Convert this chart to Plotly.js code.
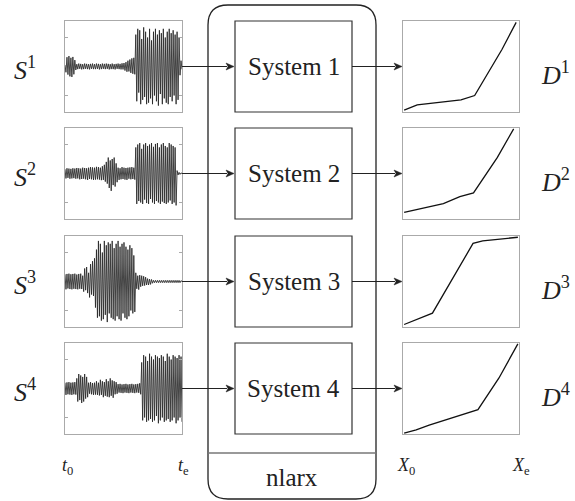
<!DOCTYPE html>
<html><head><meta charset="utf-8">
<script src="https://cdn.plot.ly/plotly-3.0.1.min.js"></script>
<style>html,body{margin:0;padding:0;background:#fff}#chart{width:575px;height:501px}</style>
</head><body><div id="chart"></div>
<script>
// ---- data ----
var signalNames = ['S','S','S','S'];
var signalIdx = ['1','2','3','4'];
var systemLabels = ['System 1','System 2','System 3','System 4'];
var outputNames = ['D','D','D','D'];
var blockLabel = 'nlarx';
var timeTickLabels = ['<i>t</i><sub>0</sub>','<i>t</i><sub>e</sub>'];
var outTickLabels = ['<i>X</i><sub>0</sub>','<i>X</i><sub>e</sub>'];

var signal1 = [0.05,-0.2,0.32,-0.28,0.36,-0.34,0.3,-0.36,0.33,-0.27,0.22,-0.12,
 0.08,-0.09,0.1,-0.08,0.09,-0.1,0.08,-0.09,0.1,-0.08,0.09,-0.09,0.08,-0.1,0.09,-0.08,0.1,-0.09,0.08,-0.09,0.1,-0.08,0.09,-0.1,0.08,-0.09,0.1,-0.08,0.09,-0.09,0.1,-0.08,0.09,-0.1,0.08,-0.09,0.1,-0.09,0.08,-0.1,0.09,-0.08,0.1,-0.09,0.09,-0.1,0.11,-0.1,
 0.12,-0.14,0.15,-0.18,0.2,-0.17,0.24,-0.22,0.28,-0.25,0.3,-0.27,
 1.1,-1.2,1.3,-0.9,1.25,-1.3,0.95,-1.15,1.35,-1.05,1.2,-1.3,1.0,-1.25,1.3,-1.1,0.9,-1.3,1.2,-1.0,1.3,-1.2,1.1,-1.35,1.25,-0.95,1.15,-1.3,1.3,-1.1,1.0,-1.25,1.2,-1.3,1.3,-1.05,1.15,-1.2,1.25,-1.0,1.1,-1.3,1.2,-1.15,1.0,
 -0.3,0.2,-0.1];
var signal2 = [0.15,-0.17,0.18,-0.15,0.17,-0.18,0.16,-0.17,0.18,-0.16,0.17,-0.18,0.19,-0.17,0.18,-0.2,0.17,-0.19,0.2,-0.18,0.19,-0.2,0.18,-0.22,0.2,-0.19,0.22,-0.2,0.21,-0.22,0.2,-0.21,0.23,-0.2,0.22,-0.21,0.2,-0.23,0.25,-0.22,0.3,-0.28,
 0.4,-0.35,0.55,-0.5,0.45,-0.6,0.5,-0.4,0.55,-0.45,0.35,-0.3,
 0.2,-0.22,0.18,-0.2,0.22,-0.19,0.2,-0.21,0.19,-0.22,0.2,-0.18,0.21,-0.2,0.22,-0.19,0.2,-0.21,
 0.9,-1.05,1.0,-0.95,1.05,-1.0,0.85,-1.05,1.0,-0.9,1.05,-1.02,0.95,-1.05,1.0,-0.88,1.05,-1.0,0.92,-1.05,1.02,-0.95,1.05,-1.0,0.9,-1.05,1.0,-0.97,1.05,-1.02,0.95,-1.05,0.9,-1.0,1.05,-0.93,1.0,-1.05,0.95,-1.0,0.9,-1.1,
 0.1,-0.05,0.04,-0.03,0.02,0];
var signal3 = [0.25,-0.27,0.26,-0.24,0.27,-0.26,0.25,-0.27,0.26,-0.25,0.27,-0.26,0.24,-0.27,0.26,-0.25,0.27,-0.26,
 0.2,-0.35,0.45,-0.3,0.5,-0.4,0.3,-0.55,0.6,-0.45,0.7,-0.5,0.8,-0.9,
 1.1,-1.25,1.4,-1.2,1.3,-1.35,1.0,-1.3,1.4,-1.15,1.25,-1.4,1.35,-1.1,1.3,-1.25,1.4,-1.3,1.15,-1.35,1.3,-1.2,1.4,-1.3,1.2,-1.35,1.3,-1.1,1.35,-1.25,1.2,-1.3,1.1,-1.2,1.25,-1.0,1.15,-1.1,0.9,-1.05,
 0.3,-0.25,0.2,-0.28,0.22,-0.18,0.2,-0.15,0.18,-0.14,0.15,-0.12,0.1,-0.12,0.08,-0.1,0.07,-0.06,
 0.04,-0.04,0.04,-0.04,0.04,-0.04,0.04,-0.04,0.04,-0.04,0.04,-0.04,0.04,-0.04,0.04,-0.04,0.04,-0.04,0.04,-0.04,0.04,-0.04,0.04,-0.04,0.04,-0.04,0.04,-0.04,0.03,0];
var signal4 = [0.2,-0.22,0.21,-0.2,0.22,-0.21,0.2,-0.22,0.21,-0.2,0.22,-0.21,
 0.35,-0.45,0.5,-0.4,0.45,-0.5,0.4,-0.45,0.5,-0.35,0.4,-0.3,
 0.2,-0.18,0.22,-0.2,0.19,-0.22,0.2,-0.21,0.25,-0.22,0.2,-0.24,0.3,-0.22,0.25,-0.3,0.22,-0.25,0.32,-0.28,0.25,-0.3,0.35,-0.25,0.28,-0.32,0.25,-0.2,0.22,-0.18,
 0.15,-0.14,0.16,-0.15,0.14,-0.16,0.15,-0.14,0.16,-0.15,0.14,-0.16,0.15,-0.14,0.16,-0.15,0.14,-0.16,0.15,-0.14,0.16,-0.15,0.18,-0.2,
 0.9,-1.1,1.15,-1.0,1.1,-1.15,0.95,-1.1,1.2,-1.05,1.1,-1.15,1.0,-1.1,1.15,-0.95,1.1,-1.2,1.05,-1.1,1.15,-1.0,1.1,-1.15,0.95,-1.1,1.2,-1.05,1.1,-1.15,1.0,-1.1,1.15,-1.0,1.1,-1.2,1.05,-1.1,1.15,-1.0,1.1,-1.15];

var out1X = [0,0.115,0.5,0.62,0.86,0.985];
var out1Y = [0.01,0.07,0.127,0.175,0.69,0.995];
var out2X = [0,0.345,0.49,0.61,0.82,0.963];
var out2Y = [0.065,0.163,0.24,0.283,0.68,1.0];
var out3X = [0,0.249,0.606,0.691,1.0];
var out3Y = [0.018,0.145,0.927,0.956,0.996];
var out4X = [0,0.106,0.22,0.506,0.649,0.834,1.0];
var out4Y = [0,0.036,0.09,0.207,0.262,0.618,1.0];

var signals = [signal1, signal2, signal3, signal4];
var outsX = [out1X, out2X, out3X, out4X];
var outsY = [out1Y, out2Y, out3Y, out4Y];

// ---- layout geometry (pixels) ----
var W = 575, H = 501;
var rowTop = [21,128,236,343], rowH = 91;
var sigL = 65, sigR = 182, sysL = 235, sysR = 352, outL = 403, outR = 519;
var FONT = 'Liberation Serif, DejaVu Serif, serif';

var traces = [];
var layout = {
  width: W, height: H, autosize: false,
  margin: {l:0, r:0, t:0, b:0, pad:0},
  paper_bgcolor: '#fff', plot_bgcolor: 'rgba(0,0,0,0)',
  showlegend: false,
  font: {family: FONT, color: '#111'},
  shapes: [], annotations: []
};

function px2x(p){ return p / W; }
function py2y(p){ return 1 - p / H; }
function arrowShapes(x0, x1, y){
  var hl = 8, hw = 3.5;
  return [
    {type: 'line', xref: 'x9', yref: 'y9', x0: x0, x1: x1 - hl + 1, y0: y, y1: y, line: {color: '#222', width: 1.2}},
    {type: 'path', xref: 'x9', yref: 'y9', path: 'M ' + x1 + ',' + y + ' L ' + (x1 - hl) + ',' + (y - hw) + ' L ' + (x1 - hl + 2) + ',' + y + ' L ' + (x1 - hl) + ',' + (y + hw) + ' Z',
     fillcolor: '#222', line: {color: '#222', width: 0.5}}
  ];
}

for (var k = 0; k < 4; k++) {
  var ydom = [py2y(rowTop[k] + rowH), py2y(rowTop[k])];
  var sx = 'x' + (k+1), sy = 'y' + (k+1);
  var dx = 'x' + (k+5), dy = 'y' + (k+5);
  var sig = signals[k];
  traces.push({
    type: 'scatter', mode: 'lines', xaxis: sx, yaxis: sy,
    x: sig.map(function(v, i){ return i; }), y: sig,
    line: {color: '#262626', width: 0.85}, hoverinfo: 'skip'
  });
  traces.push({
    type: 'scatter', mode: 'lines', xaxis: dx, yaxis: dy,
    x: outsX[k], y: outsY[k],
    line: {color: '#111', width: 1.3}, hoverinfo: 'skip'
  });
  var frameX = {showline: true, linecolor: '#aaa', linewidth: 1, mirror: true,
    showgrid: false, zeroline: false, showticklabels: false, ticks: ''};
  layout['xaxis' + (k+1)] = Object.assign({}, frameX, {domain: [px2x(sigL), px2x(sigR)], range: [0, sig.length - 1], anchor: sy});
  layout['yaxis' + (k+1)] = {domain: ydom, range: [-1.57, 1.57], anchor: sx,
    showline: true, linecolor: '#aaa', linewidth: 1, mirror: 'allticks',
    showgrid: false, zeroline: false, showticklabels: false,
    ticks: 'inside', tickvals: [-1, 1], ticklen: 3, tickcolor: '#aaa', tickwidth: 1};
  layout['xaxis' + (k+5)] = Object.assign({}, frameX, {domain: [px2x(outL), px2x(outR)], range: [-0.01, 1.01], anchor: dy});
  layout['yaxis' + (k+5)] = Object.assign({}, frameX, {domain: ydom, range: [-0.01, 1.01], anchor: dx});

  var cy = rowTop[k] + rowH / 2;
  layout.shapes.push({type: 'rect', xref: 'x9', yref: 'y9', x0: sysL, x1: sysR, y0: rowTop[k], y1: rowTop[k] + rowH,
    line: {color: '#333', width: 1.2}});
  layout.annotations.push({xref: 'x9', yref: 'y9', x: (sysL + sysR) / 2, y: cy, text: systemLabels[k],
    showarrow: false, font: {size: 25, family: FONT, color: '#222'}});
  layout.annotations.push({xref: 'x9', yref: 'y9', x: 25, y: cy + 2,
    text: '<i>' + signalNames[k] + '</i><sup>' + signalIdx[k] + '</sup>',
    showarrow: false, font: {size: 26, family: FONT, color: '#222'}});
  layout.annotations.push({xref: 'x9', yref: 'y9', x: 555, y: cy + 7,
    text: '<i>' + outputNames[k] + '</i><sup>' + signalIdx[k] + '</sup>',
    showarrow: false, font: {size: 26, family: FONT, color: '#222'}});
  layout.shapes = layout.shapes.concat(arrowShapes(sigR, sysL - 1, cy), arrowShapes(sysR, outL - 1, cy));
}

layout.xaxis9 = {domain: [0, 1], range: [0, W], visible: false, anchor: 'y9', fixedrange: true};
layout.yaxis9 = {domain: [0, 1], range: [H, 0], visible: false, anchor: 'x9', fixedrange: true};
traces.push({type: 'scatter', mode: 'markers', xaxis: 'x9', yaxis: 'y9', x: [], y: [], hoverinfo: 'skip'});

var bL = 208, bR = 376, bT = 5, bB = 499, r = 20;
layout.shapes.push({type: 'path', xref: 'x9', yref: 'y9',
  path: 'M ' + (bL + r) + ',' + bT + ' L ' + (bR - r) + ',' + bT + ' Q ' + bR + ',' + bT + ' ' + bR + ',' + (bT + r) +
        ' L ' + bR + ',' + (bB - r) + ' Q ' + bR + ',' + bB + ' ' + (bR - r) + ',' + bB +
        ' L ' + (bL + r) + ',' + bB + ' Q ' + bL + ',' + bB + ' ' + bL + ',' + (bB - r) +
        ' L ' + bL + ',' + (bT + r) + ' Q ' + bL + ',' + bT + ' ' + (bL + r) + ',' + bT + ' Z',
  line: {color: '#222', width: 1.3}});
layout.shapes.push({type: 'line', xref: 'x9', yref: 'y9', x0: bL, x1: bR, y0: 453, y1: 453,
  line: {color: '#777', width: 1.5}});
layout.annotations.push({xref: 'x9', yref: 'y9', x: (bL + bR) / 2, y: 477, text: blockLabel,
  showarrow: false, font: {size: 25, family: FONT, color: '#222'}});

var tickPos = [[sigL + 2, timeTickLabels[0]], [sigR + 1, timeTickLabels[1]], [outL + 3, outTickLabels[0]], [outR + 2, outTickLabels[1]]];
tickPos.forEach(function(p){
  layout.annotations.push({xref: 'x9', yref: 'y9', x: p[0], y: 466, text: p[1], showarrow: false,
    font: {size: 18, family: FONT, color: '#222'}});
});

Plotly.newPlot('chart', traces, layout, {displayModeBar: false});
</script>
</body></html>
